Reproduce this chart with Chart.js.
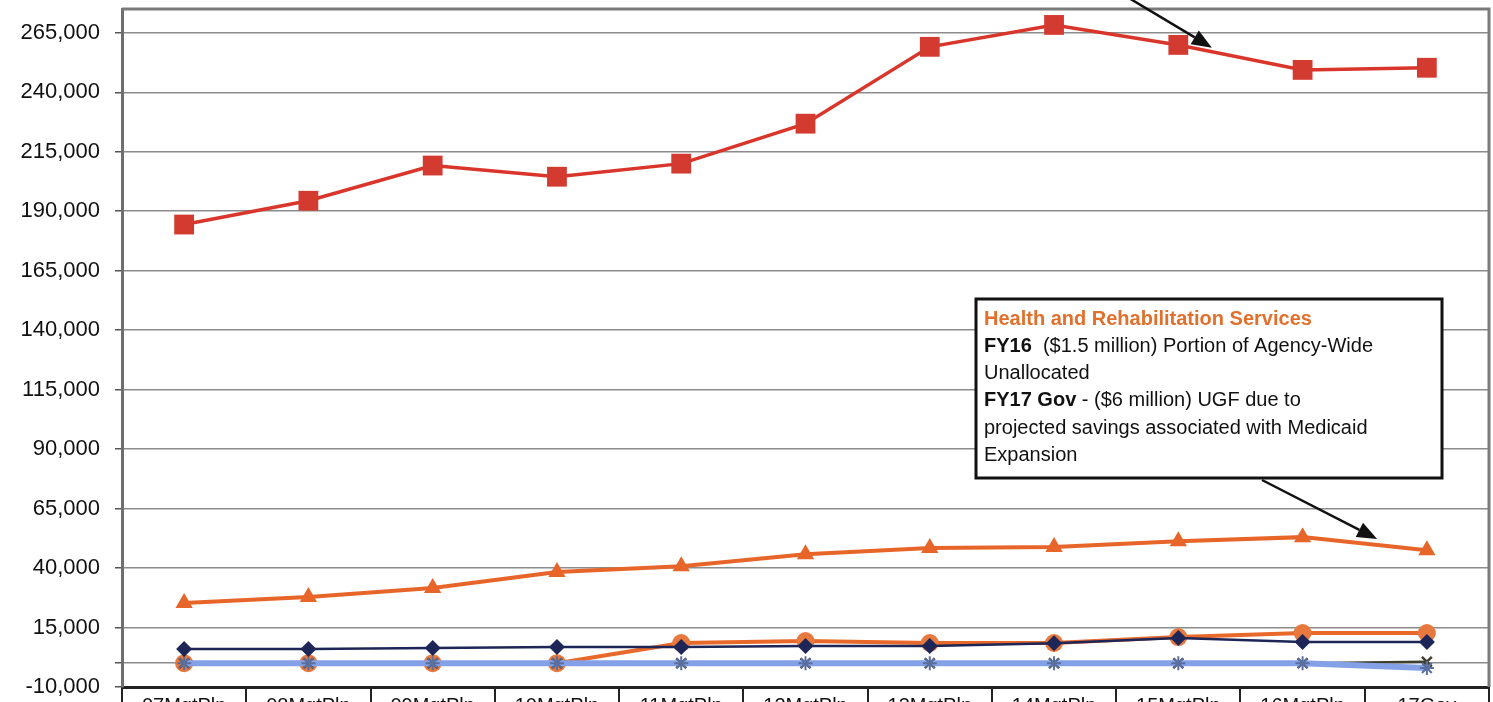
<!DOCTYPE html>
<html>
<head>
<meta charset="utf-8">
<script src="https://cdn.jsdelivr.net/npm/chart.js@4.4.1/dist/chart.umd.min.js"></script>
<style>
  html, body { margin:0; padding:0; background:#fff; overflow:hidden; }
  #wrap { width:1493px; height:720px; }
</style>
</head>
<body>
<div id="wrap"><canvas id="c" width="1493" height="720"></canvas></div>
<script>
// categories + values
const years = ['07MgtPln','08MgtPln','09MgtPln','10MgtPln','11MgtPln','12MgtPln','13MgtPln','14MgtPln','15MgtPln','16MgtPln','17Gov'];
const yTicks = [-10000, 0, 15000, 40000, 65000, 90000, 115000, 140000, 165000, 190000, 215000, 240000, 265000];

const redSquares   = [184400, 194400, 209200, 204500, 210000, 226800, 259100, 268300, 259900, 249400, 250300];
const hrsTriangles = [25300, 27800, 31600, 38300, 40800, 45800, 48400, 48800, 51300, 53000, 47500];
const navyDiamonds = [6000, 6000, 6400, 6800, 6800, 7200, 7200, 8400, 10600, 8900, 8900];
const orangeDots   = [0, 0, 0, 0, 8500, 9300, 8500, 8500, 11000, 12700, 12700];
const blueStars    = [0, 0, 0, 0, 0, 0, 0, 0, 0, 0, -2000];
const darkLine     = [0, 0, 0, 0, 0, 0, 0, 0, 0, 0, 600];

const noteLines = [
  [['Health and Rehabilitation Services', 'bold', '#e2702c']],
  [['FY16', 'bold', '#111'], ['  ($1.5 million) Portion of Agency-Wide', 'normal', '#111']],
  [['Unallocated', 'normal', '#111']],
  [['FY17 Gov', 'bold', '#111'], [' - ($6 million) UGF due to', 'normal', '#111']],
  [['projected savings associated with Medicaid', 'normal', '#111']],
  [['Expansion', 'normal', '#111']],
];

function arrow(ctx, x1, y1, x2, y2) {
  const a = Math.atan2(y2 - y1, x2 - x1), L = 20, W = 8;
  const bx = x2 - L * Math.cos(a), by = y2 - L * Math.sin(a);
  ctx.strokeStyle = '#111'; ctx.lineWidth = 2.5;
  ctx.beginPath(); ctx.moveTo(x1, y1); ctx.lineTo(bx, by); ctx.stroke();
  ctx.fillStyle = '#111';
  ctx.beginPath();
  ctx.moveTo(x2, y2);
  ctx.lineTo(bx + W * Math.sin(a), by - W * Math.cos(a));
  ctx.lineTo(bx - W * Math.sin(a), by + W * Math.cos(a));
  ctx.closePath(); ctx.fill();
}

const frame = {
  id: 'frame',
  beforeDatasetsDraw(chart) {
    const { ctx, chartArea: a } = chart;
    ctx.save();
    ctx.strokeStyle = '#7a7a7a'; ctx.lineWidth = 3;
    ctx.beginPath();
    ctx.moveTo(a.left, a.top); ctx.lineTo(a.right, a.top); ctx.lineTo(a.right, a.bottom);
    ctx.stroke();
    ctx.restore();
  },
  afterDraw(chart) {
    const { ctx, scales: { x, y } } = chart;
    ctx.save();
    // arrow onto the red line between 15 and 16
    const ax = x.getPixelForValue(8) + 0.27 * (x.getPixelForValue(9) - x.getPixelForValue(8));
    const ay = y.getPixelForValue(redSquares[8] + 0.27 * (redSquares[9] - redSquares[8])) - 4;
    arrow(ctx, ax - 83, -2, ax, ay);

    // note box
    const bx = 976, by = 299, bw = 466, bh = 179;
    ctx.fillStyle = '#fff'; ctx.fillRect(bx, by, bw, bh);
    ctx.strokeStyle = '#111'; ctx.lineWidth = 3; ctx.strokeRect(bx, by, bw, bh);
    ctx.textBaseline = 'middle';
    noteLines.forEach((parts, i) => {
      let tx = bx + 8;
      const ty = by + 20 + i * 27.3;
      parts.forEach(([t, w, c]) => {
        ctx.font = w + ' 20px "Liberation Sans", Arial, sans-serif';
        ctx.fillStyle = c;
        ctx.fillText(t, tx, ty);
        tx += ctx.measureText(t).width;
      });
    });
    // arrow from box to HRS line between 16 and 17
    const hx = x.getPixelForValue(9) + 0.6 * (x.getPixelForValue(10) - x.getPixelForValue(9));
    const hy = y.getPixelForValue(hrsTriangles[9] + 0.6 * (hrsTriangles[10] - hrsTriangles[9])) - 6;
    arrow(ctx, 1262, by + bh + 2, hx, hy);
    ctx.restore();
  }
};

const font = { family: '"Liberation Sans", Arial, sans-serif', size: 20 };

new Chart(document.getElementById('c'), {
  type: 'line',
  data: {
    labels: years,
    datasets: [
      { data: navyDiamonds, borderColor: '#1d2657', backgroundColor: '#1d2657', borderWidth: 2.5,
        pointStyle: 'rectRot', pointRadius: 8, pointBorderWidth: 0, tension: 0 },
      { data: blueStars, borderColor: '#84a0e6', backgroundColor: '#84a0e6', borderWidth: 6,
        pointStyle: 'star', pointRadius: 7, pointBorderColor: '#5a6f9e', pointBorderWidth: 2, tension: 0 },
      { data: darkLine, borderColor: '#3f3f30', backgroundColor: '#3f3f30', borderWidth: 2.5,
        pointStyle: 'crossRot', pointRadius: 7, pointBorderWidth: 2.5, tension: 0 },
      { data: orangeDots, borderColor: '#e8692a', backgroundColor: '#e8793e', borderWidth: 4,
        pointStyle: 'circle', pointRadius: 9, pointBorderWidth: 0, tension: 0 },
      { data: hrsTriangles, borderColor: '#e8652a', backgroundColor: '#e8652a', borderWidth: 4,
        pointStyle: 'triangle', pointRadius: 10, pointBorderWidth: 0, tension: 0 },
      { data: redSquares, borderColor: '#d9352a', backgroundColor: '#d33a30', borderWidth: 3.5,
        pointStyle: 'rect', pointRadius: 14, pointBorderWidth: 0, tension: 0 },
    ]
  },
  options: {
    responsive: false, animation: false, devicePixelRatio: 1,
    layout: { autoPadding: false, padding: { top: 9, right: 4, left: 0, bottom: 0 } },
    plugins: { legend: { display: false }, tooltip: { enabled: false } },
    scales: {
      x: {
        offset: true,
        afterFit: s => { s.height = 33; s.paddingLeft = 0; s.paddingRight = 0; },
        grid: { offset: true, drawOnChartArea: false, tickLength: 25, color: '#222', lineWidth: 2 },
        border: { color: '#222', width: 3 },
        ticks: { font, color: '#111', padding: -18, maxRotation: 0, autoSkip: false }
      },
      y: {
        min: -10000, max: 275000,
        afterFit: s => { s.width = 122; s.paddingTop = 0; s.paddingBottom = 0; },
        afterBuildTicks: s => { s.ticks = yTicks.map(v => ({ value: v })); },
        grid: { color: '#8c8c8c', lineWidth: 1.5, tickLength: 7, tickColor: '#555' },
        border: { color: '#6e6e6e', width: 3 },
        ticks: { font: { ...font, size: 22 }, color: '#111', padding: 15,
                 callback: v => v === 0 ? '' : v.toLocaleString('en-US') }
      }
    }
  },
  plugins: [frame]
});
</script>
</body>
</html>
